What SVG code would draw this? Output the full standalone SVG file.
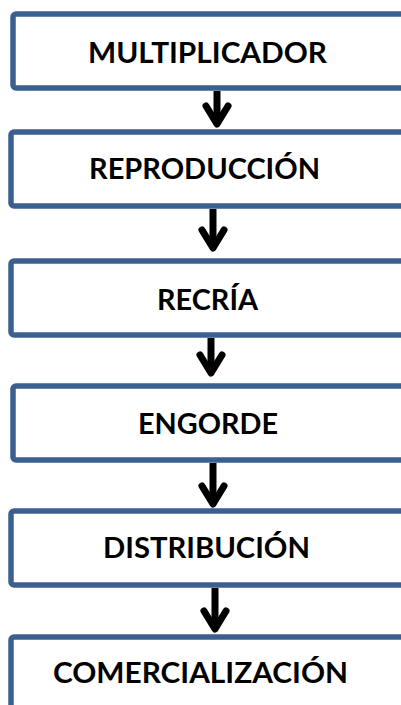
<svg xmlns="http://www.w3.org/2000/svg" width="401" height="705" viewBox="0 0 401 705">
<defs>
<style>
.box{fill:#ffffff;stroke:#3b5f8e;stroke-width:5.5}
.lbl{font-family:Lato,"Open Sans","Liberation Sans",sans-serif;font-weight:bold;font-size:28.5px;fill:#000000}
.arr{fill:none;stroke:#000000;stroke-width:7;stroke-linecap:round;stroke-linejoin:round}
.shaft{fill:none;stroke:#000000;stroke-width:7}
</style>
</defs>
<rect width="401" height="705" fill="#ffffff"/>
<g id="node-multiplicador">
<rect class="box" x="13" y="14" width="420" height="74" rx="3"/>
<text class="lbl" x="88" y="63" textLength="239" lengthAdjust="spacingAndGlyphs">MULTIPLICADOR</text>
</g>
<g id="node-reproduccion">
<rect class="box" x="11" y="132" width="420" height="74" rx="3"/>
<text class="lbl" x="89" y="179" textLength="231" lengthAdjust="spacingAndGlyphs">REPRODUCCIÓN</text>
</g>
<g id="node-recria">
<rect class="box" x="11" y="261" width="420" height="74" rx="3"/>
<text class="lbl" x="157" y="310" textLength="101" lengthAdjust="spacingAndGlyphs">RECRÍA</text>
</g>
<g id="node-engorde">
<rect class="box" x="13" y="386" width="420" height="74" rx="3"/>
<text class="lbl" x="138" y="434" textLength="140" lengthAdjust="spacingAndGlyphs">ENGORDE</text>
</g>
<g id="node-distribucion">
<rect class="box" x="11" y="511" width="420" height="74" rx="3"/>
<text class="lbl" x="103" y="558" textLength="207" lengthAdjust="spacingAndGlyphs">DISTRIBUCIÓN</text>
</g>
<g id="node-comercializacion">
<rect class="box" x="11" y="637" width="420" height="90" rx="3"/>
<text class="lbl" x="53" y="683" textLength="295" lengthAdjust="spacingAndGlyphs">COMERCIALIZACIÓN</text>
</g>
<g id="connectors">
<line class="shaft" x1="217" y1="91" x2="217" y2="122"/>
<polyline class="arr" points="206,106 217,124 228,106"/>
<line class="shaft" x1="213" y1="209" x2="213" y2="246"/>
<polyline class="arr" points="202,230 213,248 224,230"/>
<line class="shaft" x1="211" y1="338" x2="211" y2="371"/>
<polyline class="arr" points="200,355 211,373 222,355"/>
<line class="shaft" x1="213" y1="463" x2="213" y2="502"/>
<polyline class="arr" points="202,486 213,504 224,486"/>
<line class="shaft" x1="215" y1="588" x2="215" y2="627"/>
<polyline class="arr" points="204,611 215,629 226,611"/>
</g>
</svg>
